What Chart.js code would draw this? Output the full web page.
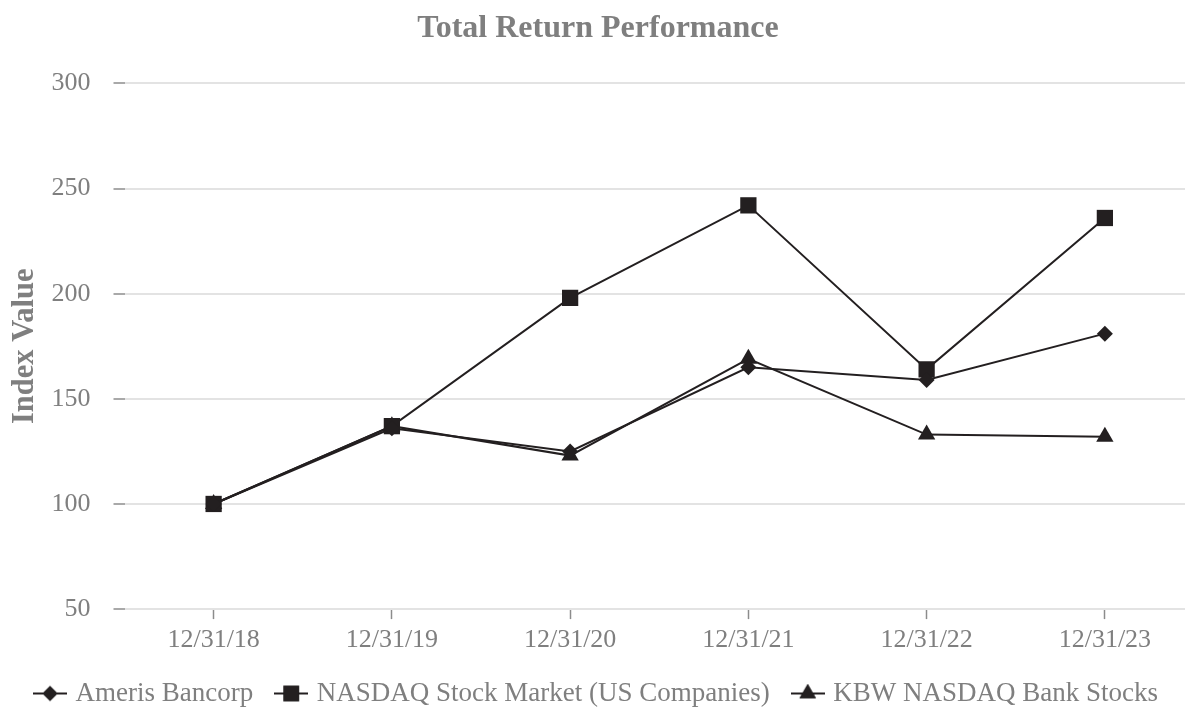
<!DOCTYPE html>
<html>
<head>
<meta charset="utf-8">
<script src="https://cdn.jsdelivr.net/npm/chart.js@4.4.1/dist/chart.umd.min.js"></script>
<style>
  html, body { margin: 0; padding: 0; background: #ffffff; overflow: hidden; }
  canvas { display: block; }
</style>
</head>
<body>
<canvas id="c" width="1206" height="714"></canvas>
<script>
const categories = ['12/31/18', '12/31/19', '12/31/20', '12/31/21', '12/31/22', '12/31/23'];
const amerisBancorp = [100, 136, 125, 165, 159, 181];
const nasdaqStockMarket = [100, 137, 198, 242, 164, 236];
const kbwNasdaqBank = [100, 137, 123, 169, 133, 132];
const seriesNames = ['Ameris Bancorp', 'NASDAQ Stock Market (US Companies)', 'KBW NASDAQ Bank Stocks'];
const yTicks = [50, 100, 150, 200, 250, 300];

const INK = '#231f20';
const GREY = '#7f7f7f';
const SERIF = '"Liberation Serif", "Times New Roman", serif';

function legendMarker(style, r) {
  const cv = document.createElement('canvas');
  cv.width = 34; cv.height = 20;
  const ctx = cv.getContext('2d');
  ctx.strokeStyle = INK; ctx.lineWidth = 2;
  ctx.beginPath(); ctx.moveTo(0, 10); ctx.lineTo(34, 10); ctx.stroke();
  Chart.helpers.drawPoint(ctx, { pointStyle: style, radius: r, borderWidth: 0, rotation: 0 }, 17, 10);
  ctx.fillStyle = INK; ctx.fill();
  return cv;
}

const markers = [
  { style: 'rectRot', r: 8, lr: 7.5 },
  { style: 'rect', r: 11.5, lr: 11 },
  { style: 'triangle', r: 10, lr: 9.5 }
];
const values = [amerisBancorp, nasdaqStockMarket, kbwNasdaqBank];

const datasets = values.map((v, i) => ({
  label: seriesNames[i],
  data: v,
  borderColor: INK,
  backgroundColor: INK,
  borderWidth: 2,
  pointStyle: markers[i].style,
  pointRadius: markers[i].r,
  pointHoverRadius: markers[i].r,
  pointBackgroundColor: INK,
  pointBorderColor: INK,
  pointBorderWidth: 0,
  tension: 0,
  clip: false
}));

new Chart(document.getElementById('c'), {
  type: 'line',
  data: { labels: categories, datasets: datasets },
  options: {
    responsive: false,
    animation: false,
    layout: { padding: { left: 2, right: 12, top: 0, bottom: -3 } },
    plugins: {
      title: {
        display: true,
        text: 'Total Return Performance',
        color: GREY,
        font: { family: SERIF, size: 32, weight: 'bold' },
        padding: { top: 10, bottom: 35 }
      },
      legend: {
        position: 'bottom',
        labels: {
          color: GREY,
          font: { family: SERIF, size: 27 },
          usePointStyle: true,
          pointStyleWidth: 24,
          boxHeight: 20,
          padding: 26,
          generateLabels: (chart) => chart.data.datasets.map((ds, i) => ({
            text: ds.label,
            pointStyle: legendMarker(markers[i].style, markers[i].lr),
            fillStyle: INK,
            strokeStyle: INK,
            lineWidth: 0,
            fontColor: GREY,
            datasetIndex: i,
            hidden: false
          }))
        }
      },
      tooltip: { enabled: false }
    },
    scales: {
      x: {
        offset: true,
        afterFit: (scale) => { scale.height = 44.9; scale.paddingLeft = 0; scale.paddingRight = 0; },
        grid: { display: true, drawOnChartArea: false, tickColor: '#8c8c8c', tickLength: 10, tickWidth: 1.5 },
        border: { display: false },
        ticks: { color: GREY, font: { family: SERIF, size: 26 }, padding: 5.4, maxRotation: 0 }
      },
      y: {
        min: 50,
        max: 300,
        afterBuildTicks: (axis) => { axis.ticks = yTicks.map(v => ({ value: v })); },
        grid: { color: '#e3e3e3', lineWidth: 2, tickColor: '#8c8c8c', tickLength: 11, tickWidth: 1.5 },
        border: { display: false },
        ticks: { color: GREY, font: { family: SERIF, size: 26 }, padding: 23 },
        title: {
          display: true,
          text: 'Index Value',
          color: GREY,
          font: { family: SERIF, size: 30.5, weight: 'bold', lineHeight: 1 },
          padding: { top: 8, bottom: -12 }
        }
      }
    }
  }
});
</script>
</body>
</html>
